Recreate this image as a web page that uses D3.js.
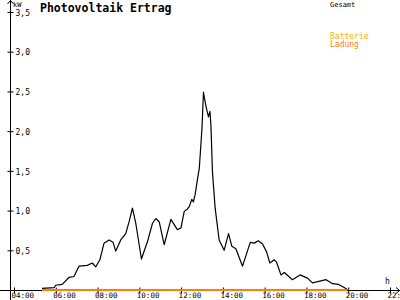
<!DOCTYPE html>
<html>
<head>
<meta charset="utf-8">
<script src="https://cdn.jsdelivr.net/npm/d3@7"></script>
<style>
  body { margin: 0; background: #fff; }
  svg { display: block; }
</style>
</head>
<body>
<div id="chart"></div>
<script>
const hours = [5.34, 5.92, 6.00, 6.31, 6.64, 6.87, 7.11, 7.51, 7.75, 7.91, 8.11, 8.31, 8.55, 8.74, 8.87,
  9.11, 9.35, 9.51, 9.67, 9.83, 10.10, 10.39, 10.63, 10.79, 10.95, 11.19, 11.51, 11.82, 11.99,
  12.15, 12.30, 12.39, 12.51, 12.59, 12.67, 12.78, 12.87, 13.00, 13.07, 13.15, 13.21, 13.31,
  13.38, 13.43, 13.50, 13.63, 13.82, 14.06, 14.27, 14.43, 14.62, 14.94, 15.31, 15.50, 15.69,
  15.90, 16.09, 16.25, 16.46, 16.57, 16.78, 16.94, 17.33, 17.69, 18.05, 18.29, 18.94, 19.25,
  19.54, 19.89, 19.96];
const gesamt = [0.02, 0.03, 0.06, 0.07, 0.16, 0.17, 0.30, 0.31, 0.34, 0.29, 0.38, 0.59, 0.63, 0.60, 0.49,
  0.63, 0.71, 0.86, 1.03, 0.84, 0.39, 0.61, 0.84, 0.90, 0.86, 0.57, 0.89, 0.76, 0.78,
  0.99, 1.02, 1.05, 1.14, 1.11, 1.20, 1.39, 1.53, 2.04, 2.49, 2.37, 2.29, 2.18,
  2.25, 2.06, 1.49, 1.03, 0.63, 0.50, 0.71, 0.55, 0.52, 0.30, 0.60, 0.59, 0.62,
  0.58, 0.48, 0.34, 0.38, 0.35, 0.19, 0.22, 0.13, 0.19, 0.15, 0.09, 0.13, 0.08,
  0.07, 0.02, 0.00];
// Batterie-Ladung: bleibt bei 0
const ladung = hours.map(() => 0);

const xTicks = [4, 6, 8, 10, 12, 14, 16, 18, 20, 22];
const yTicks = [0.5, 1.0, 1.5, 2.0, 2.5, 3.0, 3.5];

const width = 400, height = 300;
const axisX = 10, axisY = 290;
const mono = "'DejaVu Sans Mono', monospace";

const svg = d3.select("#chart").append("svg")
  .attr("width", width)
  .attr("height", height)
  .attr("viewBox", [0, 0, width, height]);

const x = d3.scaleLinear().domain([4, 22]).range([14, 390]);
const y = d3.scaleLinear().domain([0, 3.5]).range([axisY, 12]);

// Achsenlinien + Pfeile
svg.append("line")
  .attr("x1", axisX + 0.5).attr("x2", axisX + 0.5)
  .attr("y1", 0).attr("y2", height)
  .attr("stroke", "#000");
svg.append("path")
  .attr("d", `M${axisX - 2.5},4 L${axisX + 0.5},0.5 L${axisX + 3.5},4`)
  .attr("fill", "none").attr("stroke", "#000");
svg.append("line")
  .attr("x1", 0).attr("x2", width)
  .attr("y1", axisY + 0.5).attr("y2", axisY + 0.5)
  .attr("stroke", "#000");
svg.append("path")
  .attr("d", `M${width - 4},${axisY - 2.5} L${width - 0.5},${axisY + 0.5} L${width - 4},${axisY + 3.5}`)
  .attr("fill", "none").attr("stroke", "#000");

// y-Achse
const gy = svg.append("g")
  .attr("transform", `translate(${axisX + 0.5},0)`)
  .call(d3.axisRight(y).tickValues(yTicks).tickSize(3)
    .tickFormat(d => d3.format(".1f")(d).replace(".", ",")));
gy.select(".domain").remove();
gy.selectAll(".tick line").attr("x1", -3).attr("stroke", "#000");
gy.selectAll(".tick text")
  .attr("x", 5).attr("dy", "0.4em")
  .style("font-family", mono).style("font-size", "8px").attr("fill", "#000");

// x-Achse
const gx = svg.append("g")
  .attr("transform", `translate(0,${axisY + 0.5})`)
  .call(d3.axisBottom(x).tickValues(xTicks).tickSize(3)
    .tickFormat(d => String(d).padStart(2, "0") + ":00"));
gx.select(".domain").remove();
gx.selectAll(".tick line").attr("y1", -3).attr("stroke", "#000");
gx.selectAll(".tick text")
  .attr("x", -3).attr("y", 7.5).attr("dy", null)
  .attr("text-anchor", "start")
  .style("font-family", mono).style("font-size", "7.5px").attr("fill", "#000");

// Linien
const line = (vals) => d3.line()
  .x((d, i) => x(hours[i]))
  .y(d => y(d))(vals);

svg.append("path")
  .attr("d", line(gesamt))
  .attr("fill", "none")
  .attr("stroke", "#000")
  .attr("stroke-width", 1.2)
  .attr("stroke-linejoin", "round");

svg.append("path")
  .attr("d", line(ladung))
  .attr("fill", "none")
  .attr("stroke", "#ff8000")
  .attr("stroke-width", 2);

// Texte
svg.append("text")
  .attr("x", 40).attr("y", 12)
  .style("font-family", mono).style("font-size", "11.5px").style("font-weight", "bold")
  .text("Photovoltaik Ertrag");

svg.append("text")
  .attr("x", 13).attr("y", 7)
  .style("font-family", mono).style("font-size", "7px")
  .text("kW");

svg.append("text")
  .attr("x", 385).attr("y", 284)
  .style("font-family", mono).style("font-size", "8px")
  .text("h");

svg.append("text")
  .attr("x", 330).attr("y", 7)
  .style("font-family", mono).style("font-size", "7px")
  .text("Gesamt");

svg.append("text")
  .attr("x", 330).attr("y", 39)
  .style("font-family", mono).style("font-size", "8px")
  .attr("fill", "#ffae00")
  .text("Batterie");

svg.append("text")
  .attr("x", 330).attr("y", 47)
  .style("font-family", mono).style("font-size", "8px")
  .attr("fill", "#ff8000")
  .text("Ladung");
</script>
</body>
</html>
